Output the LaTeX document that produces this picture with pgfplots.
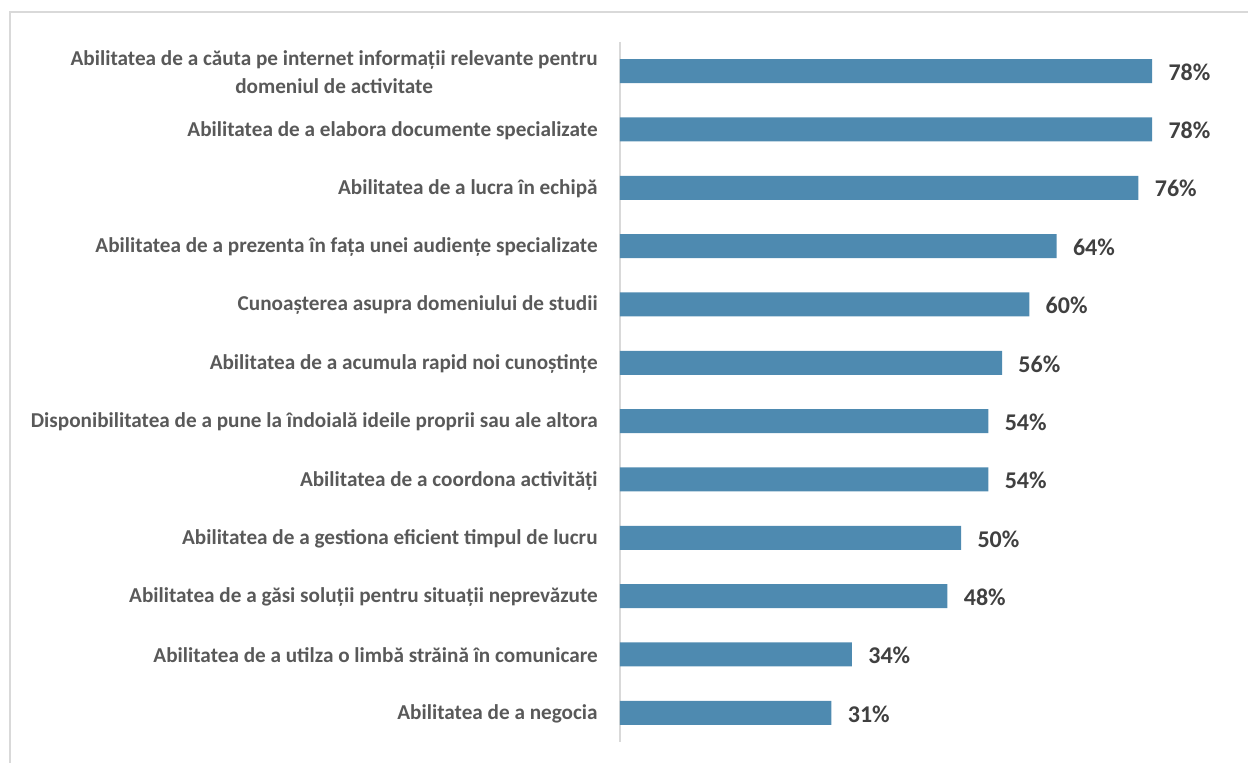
\documentclass[border=0pt]{standalone}
\usepackage{pgfplots}
\pgfplotsset{compat=1.18}
\usepackage{fontspec}
\setmainfont{Carlito}
\definecolor{barblue}{HTML}{4E8AB0}
\definecolor{labgray}{HTML}{595959}
\definecolor{valgray}{HTML}{404040}
\definecolor{bordergray}{HTML}{D9D9D9}
\begin{document}
\begin{tikzpicture}
\useasboundingbox (0,0) rectangle (624pt,381.5pt);
\draw[bordergray, line width=1pt] (5pt,0) -- (5pt,375.5pt) -- (624pt,375.5pt);
\begin{axis}[
  at={(310pt,10.5pt)}, anchor=south west,
  scale only axis, width=307pt, height=350pt,
  xbar, bar width=12pt,
  xmin=0, xmax=90,
  ymin=-0.5, ymax=11.5,
  y dir=reverse,
  ytick={0,...,11},
  yticklabels={
    {Abilitatea de a căuta pe internet informații relevante pentru\\domeniul de activitate},
    {Abilitatea de a elabora documente specializate},
    {Abilitatea de a lucra în echipă},
    {Abilitatea de a prezenta în fața unei audiențe specializate},
    {Cunoașterea asupra domeniului de studii},
    {Abilitatea de a acumula rapid noi cunoștințe},
    {Disponibilitatea de a pune la îndoială ideile proprii sau ale altora},
    {Abilitatea de a coordona activități},
    {Abilitatea de a gestiona eficient timpul de lucru},
    {Abilitatea de a găsi soluții pentru situații neprevăzute},
    {Abilitatea de a utilza o limbă străină în comunicare},
    {Abilitatea de a negocia}},
  axis y line*=left, axis x line=none,
  y axis line style={bordergray, line width=1pt, -},
  xtick=\empty,
  major tick length=0pt,
  ytick style={draw=none},
  yticklabel style={font=\bfseries\fontsize{10.6}{14}\selectfont, text=labgray, align=center, inner sep=0pt, xshift=-11pt, yshift=-0.5pt},
  point meta=explicit symbolic,
  nodes near coords={\pgfplotspointmeta\%},
  nodes near coords style={font=\bfseries\fontsize{12}{14}\selectfont, text=valgray, anchor=west, inner sep=0pt, xshift=8pt, yshift=-0.5pt},
]
\addplot[draw=none, fill=barblue] coordinates {
  (78,0) [78] (78,1) [78] (76,2) [76] (64,3) [64] (60,4) [60] (56,5) [56]
  (54,6) [54] (54,7) [54] (50,8) [50] (48,9) [48] (34,10) [34] (31,11) [31]
};
\end{axis}
\end{tikzpicture}
\end{document}
